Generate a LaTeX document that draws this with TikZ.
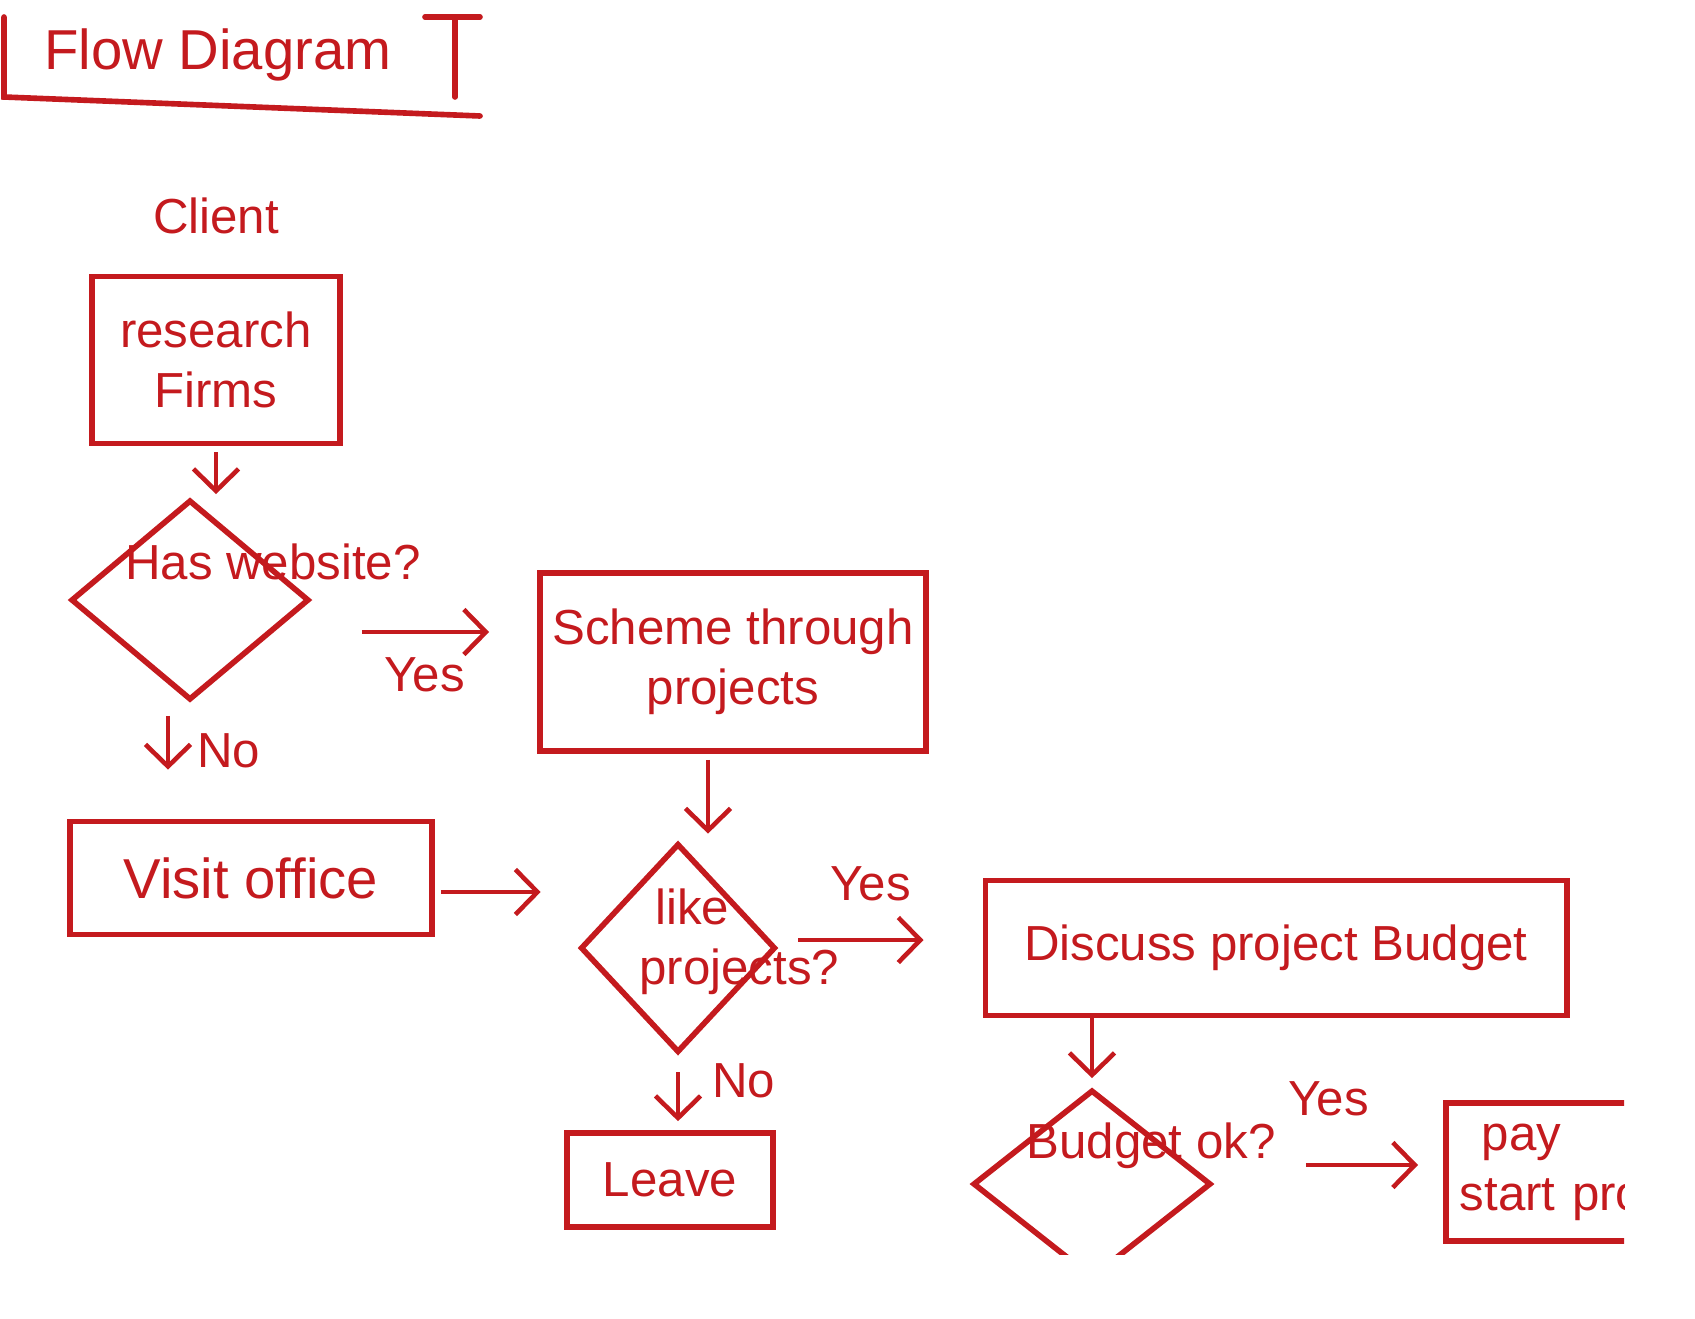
\documentclass[tikz,border=0pt]{standalone}
\usepackage{fontspec}
\setmainfont{Liberation Sans}
\usetikzlibrary{shapes.geometric,arrows.meta}
\definecolor{pen}{RGB}{196,26,30}

\begin{document}
\begin{tikzpicture}[x=0.01cm,y=-0.01cm,
  every node/.style={text=pen, font=\fontsize{14}{17}\selectfont},
  box/.style={draw=pen, line width=1.6pt, rectangle, align=center, inner sep=0pt},
  choice/.style={draw=pen, line width=1.6pt, diamond, inner sep=0pt},
  flow/.style={draw=pen, line width=1.3pt, -{Straight Barb[length=2.2mm,width=4.5mm]}}]

\useasboundingbox (0,0) rectangle (1695,1318);
\clip (0,0) rectangle (1624,1254);

% The title and its bracket
\node[font=\fontsize{16}{19}\selectfont] (title) at (218,55) {Flow Diagram};
\draw[pen, line width=1.6pt, line cap=round] (4,17) -- (4,97) -- (480,116);
\draw[pen, line width=1.6pt, line cap=round] (455,17) -- (455,97) (425,17) -- (480,17);

% The client column
\node (client) at (216,216) {Client};
\node[box, minimum width=2.48cm, minimum height=1.67cm] (research) at (216,360) {research\\Firms};
\node[choice, minimum width=2.38cm, minimum height=2cm] (web) at (190,600) {};
\node (webq) at (273,562) {Has website?};
\node[box, minimum width=3.62cm, minimum height=1.13cm, font=\fontsize{16}{19}\selectfont] (visit) at (251,878) {Visit office};

% The middle column
\node[box, minimum width=3.86cm, minimum height=1.78cm] (scheme) at (733,662) {Scheme through\\projects};
\node[choice, minimum width=1.95cm, minimum height=2.09cm] (like) at (678,948) {};
\node[anchor=west, align=left] (likeq) at (627,942) {\hspace{0.16cm}like\\projects?};
\node[box, minimum width=2.06cm, minimum height=0.94cm] (leave) at (670,1180) {Leave};

% The budget row
\node[box, minimum width=5.81cm, minimum height=1.35cm] (discuss) at (1276,948) {Discuss project Budget};
\node[choice, minimum width=2.38cm, minimum height=1.88cm] (budget) at (1092,1184) {};
\node (budgetq) at (1151,1146) {Budget ok?};
\node[box, anchor=west, minimum height=1.38cm, text width=3.6cm, align=left, inner xsep=0.14cm] (pay) at (1443,1172) {\hspace{0.22cm}pay\\start projects};

% The connectors
\draw[flow, shorten <=0.06cm, shorten >=0.03cm] (research.south) -- (research.south |- web.north);
\draw[flow, shorten <=0.5cm, shorten >=0.48cm] ([yshift=-0.32cm]web.east) -- ([yshift=-0.32cm]web.east -| scheme.west)
  node[midway, below=0.12cm] {Yes};
\draw[flow, shorten <=0.13cm, shorten >=0.49cm] ([xshift=-0.22cm]web.south) -- ([xshift=-0.22cm]web.south |- visit.north)
  node[midway, right=0.15cm, yshift=0.1cm] {No};
\draw[flow, shorten <=0.06cm, shorten >=0.37cm] ([yshift=-0.14cm]visit.east) -- ([yshift=-0.14cm]visit.east -| like.west);
\draw[flow, shorten <=0.06cm, shorten >=0.07cm] ([xshift=-0.25cm]scheme.south) -- ([xshift=-0.25cm]scheme.south |- like.north);
\draw[flow, shorten <=0.2cm, shorten >=0.59cm] ([yshift=0.08cm]like.east) -- ([yshift=0.08cm]like.east -| discuss.west)
  node[midway, above=0.25cm, xshift=-0.1cm] {Yes};
\draw[flow, shorten <=0.17cm, shorten >=0.09cm] (like.south) -- (like.south |- leave.north)
  node[midway, right=0.2cm, yshift=0.12cm] {No};
\draw[flow, shorten >=0.09cm] (budget.north |- discuss.south) -- (budget.north);
\draw[flow, shorten <=0.92cm, shorten >=0.25cm] ([yshift=0.19cm]budget.east) -- ([yshift=0.19cm]budget.east -| pay.west)
  node[midway, above=0.35cm] {Yes};

\end{tikzpicture}
\end{document}
